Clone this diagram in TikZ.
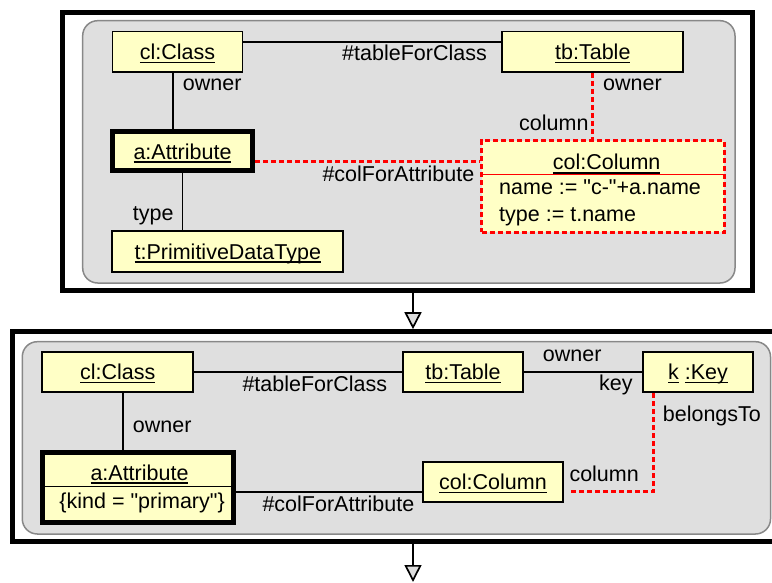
\documentclass[tikz,border=0pt]{standalone}
\usepackage{fontspec}
% a family without TeX ligature mapping, so " stays a straight quote
\newfontfamily\diagfont{Liberation Sans}
\usetikzlibrary{arrows.meta}
\definecolor{objfill}{HTML}{FFFFC6}
\definecolor{panelfill}{HTML}{DFDFDF}
\definecolor{panelline}{HTML}{888888}
\definecolor{tipfill}{HTML}{DDDDDD}
% object names: underline at a fixed depth below the baseline
\newcommand{\objname}[1]{\setbox0=\hbox{#1}\rlap{\rule[-3.6pt]{\wd0}{1.4pt}}\box0}
\begin{document}
\begin{tikzpicture}[x=1pt,y=-1pt,
  font=\diagfont\fontsize{21.5}{25}\selectfont,
  frame/.style={draw, line width=5pt, inner sep=0pt},
  panel/.style={draw=panelline, fill=panelfill, line width=1.5pt, rounded corners=15pt, inner sep=0pt},
  obj/.style={draw, fill=objfill, line width=1.7pt, inner sep=0pt, minimum height=40.6pt, text depth=0pt},
  keyobj/.style={obj, line width=5pt},
  newobj/.style={obj, draw=red, line width=3pt, dash pattern=on 5pt off 3pt},
  link/.style={draw, line width=1.7pt},
  newlink/.style={draw=red, line width=3pt, dash pattern=on 5pt off 3pt},
  lbl/.style={inner sep=0pt, anchor=base west},
  txt/.style={inner sep=0pt, anchor=base},
  flow/.style={line width=1.7pt, -{Triangle[fill=tipfill, length=17pt, width=17pt]}}]

\useasboundingbox (0,0) rectangle (772,583);

% ---------- first rule step ----------
\node[frame, minimum width=690pt, minimum height=278.3pt] (f1) at (407.5,151.65) {};
\node[panel, minimum width=652.3pt, minimum height=262.3pt] (p1) at (408.85,151.85) {};

\node[obj, minimum width=130pt] (cl) at (177.5,51.7) {\objname{cl:Class}};
\node[obj, minimum width=181pt] (tb) at (592.8,51.7) {\objname{tb:Table}};
\node[keyobj, minimum width=140pt, minimum height=38.5pt] (a) at (182.5,151.25) {\objname{a:Attribute}};
\node[obj, minimum width=231pt] (t) at (227.8,251.35) {\objname{t:PrimitiveDataType}};
\node[newobj, minimum width=242.3pt, minimum height=91.6pt] (col) at (602.85,186.5) {};
\node[txt] (colname) at (606.7,170) {\objname{col:Column}};
\draw[red, line width=1pt] ([yshift=11.5pt]col.west) -- ([yshift=11.5pt]col.east);
\node[lbl] (colattr1) at (499,195) {name := "c-"+a.name};
\node[lbl] (colattr2) at (499,221.7) {type := t.name};

\draw[link] ([yshift=10pt]cl.east) -- ([yshift=10pt]cl.east -| tb.west);
\draw[link] ([xshift=-4.2pt]cl.south) -- ([xshift=-4.2pt]cl.south |- a.north);
\draw[link] (a.south) -- (a.south |- t.north);
\draw[newlink] ([yshift=-10.4pt]a.east) -- ([yshift=-10.4pt]a.east -| col.west);
\draw[newlink] ([xshift=-0.5pt]tb.south) -- ([xshift=-0.5pt]tb.south |- col.north);

\node[lbl] (l1) at (342,61) {\#tableForClass};
\node[lbl] (l2) at (182.7,91) {owner};
\node[lbl] (l3) at (132.7,221) {type};
\node[lbl] (l4) at (322.3,181.7) {\#colForAttribute};
\node[lbl] (l5) at (603,91) {owner};
\node[lbl] (l6) at (519,131) {column};

% ---------- second rule step ----------
\node[frame, minimum width=787.5pt, minimum height=210pt] (f2) at (406.25,436.7) {};
\node[panel, minimum width=748.2pt, minimum height=192.3pt] (p2) at (396.4,437.85) {};

\node[obj, minimum width=151pt] (cl2) at (117.8,372) {\objname{cl:Class}};
\node[obj, minimum width=120.6pt] (tb2) at (463,372) {\objname{tb:Table}};
\node[obj, minimum width=110.6pt] (k) at (698,372) {\objname{k}\ \objname{:Key}};
\node[keyobj, minimum width=190.5pt, minimum height=70.5pt] (a2) at (137.75,487.25) {};
\node[txt] (a2name) at (139.5,480) {\objname{a:Attribute}};
\draw[line width=1.5pt] ([yshift=0.8pt]a2.west) -- ([yshift=0.8pt]a2.east);
\node[lbl] (a2kind) at (59.3,508) {\{kind = "primary"\}};
\node[obj, minimum width=140.6pt] (col2) at (493,482) {\objname{col:Column}};

\draw[link] (cl2.east) -- (tb2.west);
\draw[link] (tb2.east) -- (k.west);
\draw[link] ([xshift=4.9pt]cl2.south) -- ([xshift=4.9pt]cl2.south |- a2.north);
\draw[link] ([yshift=-4.45pt]a2.east) -- ([yshift=-4.45pt]a2.east -| col2.west);
\draw[newlink] ([xshift=-44.7pt]k.south) |- ([xshift=6pt,yshift=-9.7pt]col2.east);

\node[lbl] (m1) at (242.3,391.7) {\#tableForClass};
\node[lbl] (m2) at (542.7,361.7) {owner};
\node[lbl] (m3) at (599,390) {key};
\node[lbl] (m4) at (132.7,432.3) {owner};
\node[lbl] (m5) at (262.3,511.7) {\#colForAttribute};
\node[lbl] (m6) at (662.7,421.7) {belongsTo};
\node[lbl] (m7) at (569.3,481.7) {column};

% ---------- step transitions ----------
\coordinate (ax) at (413,0);
\coordinate (nextstep) at (413,582);
\draw[flow] (f1.south -| ax) -- (f2.north -| ax);
\draw[flow] (f2.south -| ax) -- (nextstep);
\end{tikzpicture}
\end{document}
